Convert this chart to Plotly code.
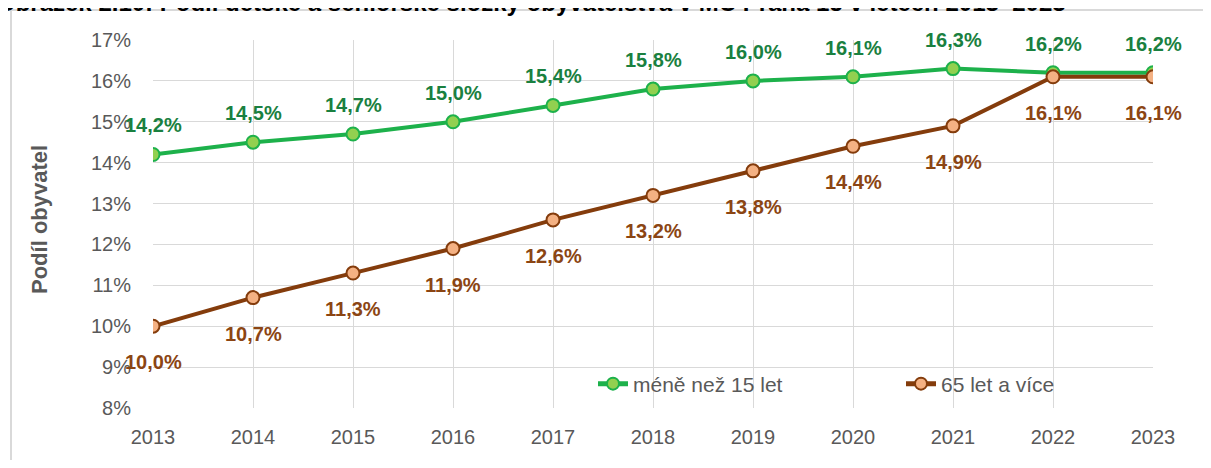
import plotly.graph_objects as go

years = [2013, 2014, 2015, 2016, 2017, 2018, 2019, 2020, 2021, 2022, 2023]
deti = [14.2, 14.5, 14.7, 15.0, 15.4, 15.8, 16.0, 16.1, 16.3, 16.2, 16.2]
seniori = [10.0, 10.7, 11.3, 11.9, 12.6, 13.2, 13.8, 14.4, 14.9, 16.1, 16.1]
series_names = ["méně než 15 let", "65 let a více"]
y_ticks = [8, 9, 10, 11, 12, 13, 14, 15, 16, 17]
title_text = "Obrázek 2.10: Podíl dětské a seniorské složky obyvatelstva v MČ Praha 15 v letech 2013–2023"
y_title = "Podíl obyvatel"

# page has an 8px body margin; the figure is sized to fit inside the window
OFF = 8
W, H = 1195, 452
L, T = 145, 32
PW, PH = 1000, 368
R = W - L - PW
B = H - T - PH
FONT = "Liberation Sans, Arial, sans-serif"
GRAY = "#595959"

green_line = "#1db14b"
green_fill = "#92d050"
green_text = "#1a8040"
brown_line = "#843c0c"
brown_fill = "#f4b183"
brown_text = "#8b4513"

def fmt(v):
    return f"{v:.1f}".replace(".", ",") + "%"

def px_x(page):
    return (page - OFF - L) / PW

def px_y(page):
    return (H - B - (page - OFF)) / PH

fig = go.Figure()
fig.add_trace(go.Scatter(
    x=years, y=deti, mode="lines+markers", name=series_names[0],
    line=dict(color=green_line, width=4),
    marker=dict(size=13, color=green_fill, line=dict(color=green_line, width=2)),
))
fig.add_trace(go.Scatter(
    x=years, y=seniori, mode="lines+markers", name=series_names[1],
    line=dict(color=brown_line, width=4),
    marker=dict(size=13, color=brown_fill, line=dict(color=brown_line, width=2)),
))

annotations = []
for x, v in zip(years, deti):
    annotations.append(dict(x=x, y=v, xref="x", yref="y", text=fmt(v), showarrow=False,
                            yshift=29, font=dict(family=FONT, size=20, color=green_text, weight="bold")))
for x, v in zip(years, seniori):
    annotations.append(dict(x=x, y=v, xref="x", yref="y", text=fmt(v), showarrow=False,
                            yshift=-36, font=dict(family=FONT, size=20, color=brown_text, weight="bold")))

annotations.append(dict(x=px_x(-5), y=px_y(2), xref="paper", yref="paper", xanchor="left", yanchor="middle",
                        text=title_text, showarrow=False,
                        font=dict(family=FONT, size=24, color="#000000", weight="bold")))
annotations.append(dict(x=px_x(40), y=px_y(220), xref="paper", yref="paper", xanchor="center", yanchor="middle",
                        text=y_title, textangle=-90, showarrow=False,
                        font=dict(family=FONT, size=22, color=GRAY, weight="bold")))

shapes = [
    dict(type="line", xref="paper", yref="paper", x0=px_x(11), x1=px_x(11), y0=px_y(10), y1=px_y(470),
         line=dict(color="#d9d9d9", width=2)),
    dict(type="line", xref="paper", yref="paper", x0=px_x(11), x1=px_x(1215), y0=px_y(10), y1=px_y(10),
         line=dict(color="#d9d9d9", width=2)),
]

fig.update_layout(
    width=W, height=H,
    margin=dict(l=L, r=R, t=T, b=B, pad=0, autoexpand=False),
    paper_bgcolor="white", plot_bgcolor="white",
    font=dict(family=FONT, color=GRAY, size=20),
    showlegend=True,
    legend=dict(orientation="h", x=px_x(593), y=px_y(384), xanchor="left", yanchor="middle",
                bgcolor="rgba(0,0,0,0)", font=dict(family=FONT, size=21, color=GRAY),
                entrywidth=263, itemsizing="constant"),
    annotations=annotations,
    shapes=shapes,
)
fig.update_xaxes(range=[2013, 2023], tickmode="array", tickvals=years, ticktext=[str(y) for y in years],
                 showgrid=True, gridcolor="#d9d9d9", gridwidth=1, zeroline=False, automargin=False,
                 showline=False, ticks="", tickfont=dict(family=FONT, size=20, color=GRAY),
                 ticklabelstandoff=15)
fig.update_yaxes(range=[8, 17], tickmode="array", tickvals=y_ticks, ticktext=[f"{t}%" for t in y_ticks],
                 showgrid=True, gridcolor="#d9d9d9", gridwidth=1, zeroline=False, automargin=False,
                 showline=False, ticks="", tickfont=dict(family=FONT, size=20, color=GRAY),
                 ticklabelstandoff=21)

fig.write_html("out.html")
